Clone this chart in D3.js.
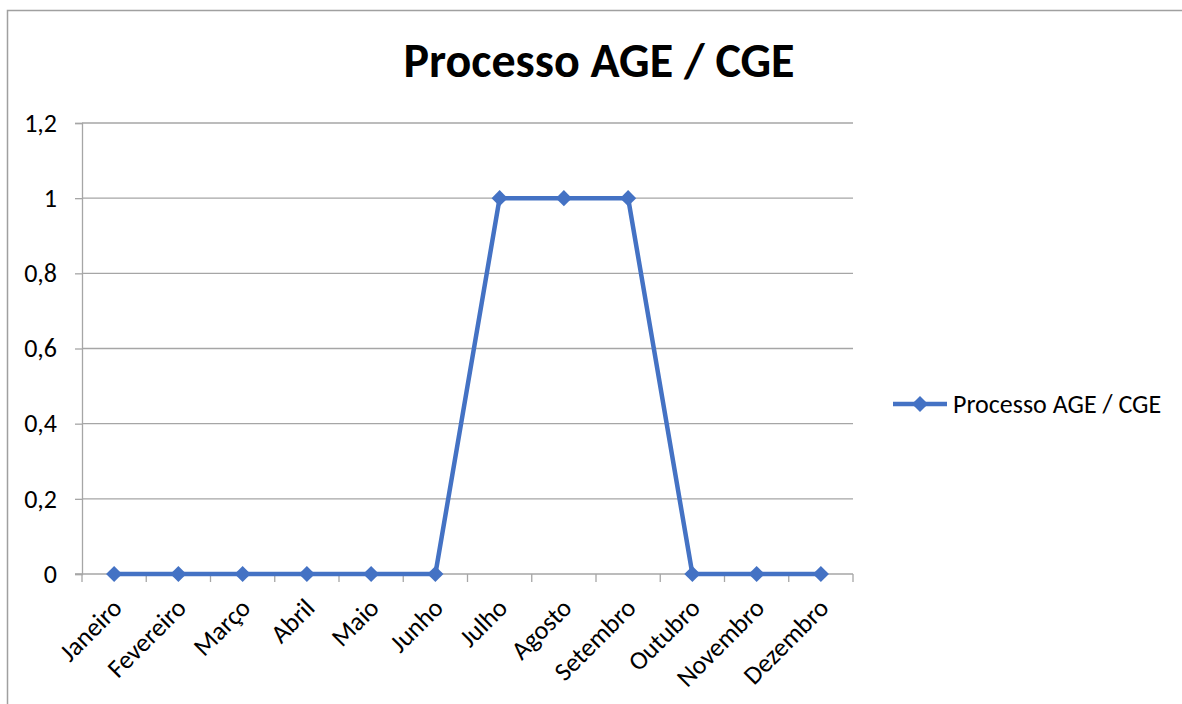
<!DOCTYPE html>
<html>
<head>
<meta charset="utf-8">
<script src="https://cdn.jsdelivr.net/npm/d3@7"></script>
<style>
  body { margin: 0; background: #fff; }
  svg { display: block; font-family: Carlito, Calibri, Lato, sans-serif; }
</style>
</head>
<body>
<div id="chart"></div>
<script>
// Processo AGE / CGE - monthly line chart

const months = ["Janeiro", "Fevereiro", "Março", "Abril", "Maio", "Junho",
  "Julho", "Agosto", "Setembro", "Outubro", "Novembro", "Dezembro"];
const values = [0, 0, 0, 0, 0, 0, 1, 1, 1, 0, 0, 0];
const yTicks = [0, 0.2, 0.4, 0.6, 0.8, 1, 1.2];
const seriesName = "Processo AGE / CGE";

const width = 1182, height = 704;
const margin = { left: 82, right: 329, top: 123, bottom: 130 };
const blue = "#4472C4";
const grid = "#a6a6a6";
const fontFam = "Carlito, Calibri, Lato, sans-serif";

const svg = d3.select("#chart").append("svg")
  .attr("width", width)
  .attr("height", height);

// chart border
svg.append("rect")
  .attr("x", 7.5).attr("y", 10.5)
  .attr("width", 1200).attr("height", 800)
  .attr("fill", "none")
  .attr("stroke", "#a0a0a0")
  .attr("stroke-width", 1.5);

const x = d3.scaleBand()
  .domain(months)
  .range([margin.left, width - margin.right]);

const y = d3.scaleLinear()
  .domain([0, 1.2])
  .range([height - margin.bottom, margin.top]);

// gridlines
svg.append("g")
  .selectAll("line")
  .data(yTicks.filter(d => d > 0))
  .join("line")
  .attr("x1", margin.left).attr("x2", width - margin.right)
  .attr("y1", d => y(d)).attr("y2", d => y(d))
  .attr("stroke", grid)
  .attr("stroke-width", 1.3);

// y axis
const yAxis = svg.append("g")
  .attr("transform", `translate(${margin.left},0)`)
  .call(d3.axisLeft(y).tickValues(yTicks).tickSize(7).tickPadding(18)
    .tickFormat(d => String(d).replace(".", ",")));
yAxis.attr("font-size", null).attr("font-family", null);
yAxis.select(".domain").attr("stroke", grid).attr("stroke-width", 1.3);
yAxis.selectAll(".tick line").attr("stroke", grid).attr("stroke-width", 1.3);
yAxis.selectAll("text")
  .attr("fill", "#000")
  .style("font-size", "26px")
  .style("font-family", fontFam);

// x axis with ticks at category boundaries
const xAxisG = svg.append("g")
  .attr("transform", `translate(0,${y(0)})`);
xAxisG.append("line")
  .attr("x1", margin.left - 7).attr("x2", width - margin.right)
  .attr("stroke", grid).attr("stroke-width", 1.3);
const bounds = months.map(m => x(m)).concat([x(months[months.length - 1]) + x.bandwidth()]);
xAxisG.selectAll(".bt")
  .data(bounds)
  .join("line")
  .attr("class", "bt")
  .attr("x1", d => d).attr("x2", d => d)
  .attr("y1", 0).attr("y2", 8)
  .attr("stroke", grid).attr("stroke-width", 1.3);
xAxisG.selectAll(".lbl")
  .data(months)
  .join("text")
  .attr("class", "lbl")
  .attr("text-anchor", "end")
  .attr("transform", d => `translate(${x(d) + x.bandwidth() / 2 + 3},${29}) rotate(-45)`)
  .attr("dy", "0.35em")
  .style("font-size", "26px")
  .style("font-family", fontFam)
  .attr("fill", "#000")
  .text(d => d);

// line
const line = d3.line()
  .x((d, i) => x(months[i]) + x.bandwidth() / 2)
  .y(d => y(d));

svg.append("path")
  .datum(values)
  .attr("d", line)
  .attr("fill", "none")
  .attr("stroke", blue)
  .attr("stroke-width", 4.5)
  .attr("stroke-linejoin", "round");

const diamond = d3.symbol().type(d3.symbolSquare).size(130);
svg.append("g")
  .selectAll("path")
  .data(values)
  .join("path")
  .attr("d", diamond)
  .attr("transform", (d, i) => `translate(${x(months[i]) + x.bandwidth() / 2},${y(d)}) rotate(45)`)
  .attr("fill", blue);

// title
svg.append("text")
  .attr("x", 599).attr("y", 77)
  .attr("text-anchor", "middle")
  .style("font-size", "48px")
  .style("font-weight", "bold")
  .style("font-family", fontFam)
  .attr("fill", "#000")
  .text(seriesName);

// legend
const lg = svg.append("g").attr("transform", "translate(893,404)");
lg.append("line").attr("x1", 0).attr("x2", 54)
  .attr("stroke", blue).attr("stroke-width", 4.5);
lg.append("path").attr("d", diamond)
  .attr("transform", "translate(27,0) rotate(45)")
  .attr("fill", blue);
lg.append("text")
  .attr("x", 60).attr("dy", "0.35em")
  .style("font-size", "26px")
  .style("font-family", fontFam)
  .attr("fill", "#000")
  .text(seriesName);
</script>
</body>
</html>
